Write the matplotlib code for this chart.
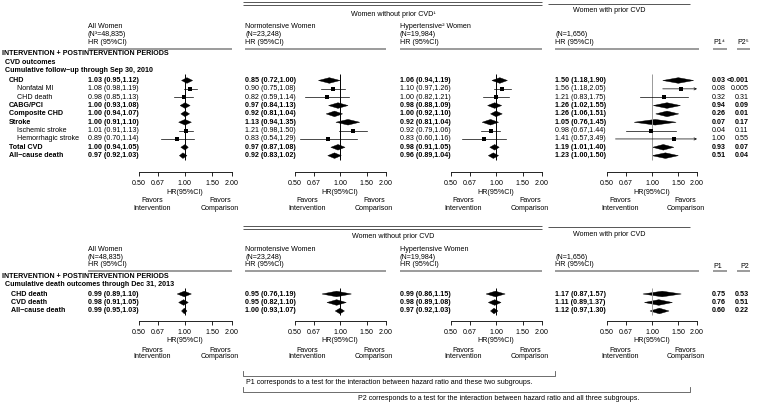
import numpy as np
import matplotlib.pyplot as plt
import matplotlib.transforms as mtransforms
from matplotlib.patches import Polygon
from matplotlib.ticker import NullLocator

plt.rcParams['font.family'] = ['Liberation Sans', 'DejaVu Sans']

# ---------------- data ----------------
groups = ["All Women", "Normotensive Women", "Hypertensive Women", "Women with prior CVD"]
n_labels_top = ["(N\u00b3=48,835)", "(N=23,248)", "(N=19,984)", "(N=1,656)"]
n_labels_bot = ["(N=48,835)", "(N=23,248)", "(N=19,984)", "(N=1,656)"]
col_titles_top = ["All Women", "Normotensive Women", "Hypertensive\u00b2 Women", ""]
col_titles_bot = ["All Women", "Normotensive Women", "Hypertensive Women", ""]

outcomes_top = ["CHD", "Nonfatal MI", "CHD death", "CABG/PCI", "Composite CHD", "Stroke",
                "Ischemic stroke", "Hemorrhagic stroke", "Total CVD", "All\u2212cause death"]
summary_top = [True, False, False, True, True, True, False, False, True, True]

# (HR, lower, upper)
all_top = [(1.03, 0.95, 1.12), (1.08, 0.98, 1.19), (0.98, 0.85, 1.13), (1.00, 0.93, 1.08),
           (1.00, 0.94, 1.07), (1.00, 0.91, 1.10), (1.01, 0.91, 1.13), (0.89, 0.70, 1.14),
           (1.00, 0.94, 1.05), (0.97, 0.92, 1.03)]
normo_top = [(0.85, 0.72, 1.00), (0.90, 0.75, 1.08), (0.82, 0.59, 1.14), (0.97, 0.84, 1.13),
             (0.92, 0.81, 1.04), (1.13, 0.94, 1.35), (1.21, 0.98, 1.50), (0.83, 0.54, 1.29),
             (0.97, 0.87, 1.08), (0.92, 0.83, 1.02)]
hyper_top = [(1.06, 0.94, 1.19), (1.10, 0.97, 1.26), (1.00, 0.82, 1.21), (0.98, 0.88, 1.09),
             (1.00, 0.92, 1.10), (0.92, 0.81, 1.04), (0.92, 0.79, 1.06), (0.83, 0.60, 1.16),
             (0.98, 0.91, 1.05), (0.96, 0.89, 1.04)]
prior_top = [(1.50, 1.18, 1.90), (1.56, 1.18, 2.05), (1.21, 0.83, 1.75), (1.26, 1.02, 1.55),
             (1.26, 1.06, 1.51), (1.05, 0.76, 1.45), (0.98, 0.67, 1.44), (1.41, 0.57, 3.49),
             (1.19, 1.01, 1.40), (1.23, 1.00, 1.50)]
p1_top = ["0.03", "0.08", "0.32", "0.94", "0.26", "0.07", "0.04", "1.00", "0.93", "0.51"]
p2_top = ["<0.001", "0.005", "0.31", "0.09", "0.01", "0.17", "0.11", "0.55", "0.07", "0.04"]

outcomes_bot = ["CHD death", "CVD death", "All\u2212cause death"]
summary_bot = [True, True, True]
all_bot = [(0.99, 0.89, 1.10), (0.98, 0.91, 1.05), (0.99, 0.95, 1.03)]
normo_bot = [(0.95, 0.76, 1.19), (0.95, 0.82, 1.10), (1.00, 0.93, 1.07)]
hyper_bot = [(0.99, 0.86, 1.15), (0.98, 0.89, 1.08), (0.97, 0.92, 1.03)]
prior_bot = [(1.17, 0.87, 1.57), (1.11, 0.89, 1.37), (1.12, 0.97, 1.30)]
p1_bot = ["0.75", "0.76", "0.60"]
p2_bot = ["0.53", "0.51", "0.22"]

ticks = [0.5, 0.67, 1.0, 1.5, 2.0]
tick_labels = ["0.50", "0.67", "1.00", "1.50", "2.00"]

# ---------------- layout (pixels) ----------------
W, H = 757, 405
FS = 5.1
centers = [185, 340, 496, 652]     # x of HR = 1
halfw = [46.5, 45.5, 45.5, 45.0]   # px from HR=1 to HR=2
text_x = [88, 245, 400, 555]
ref_colors = ['black', 'black', 'black', '#9a9a9a']

fig = plt.figure(figsize=(W / 100, H / 100), dpi=100)
bg = fig.add_axes([0, 0, 1, 1])
bg.set_xlim(0, W)
bg.set_ylim(H, 0)
bg.axis('off')


def txt(x, y, s, bold=False, ha='left', **kw):
    bg.text(x, y, s, fontsize=FS, ha=ha, va='center',
            fontweight='bold' if bold else 'normal', **kw)


def hline(x0, x1, y, color='#808080', lw=1.0):
    bg.plot([x0, x1], [y, y], color=color, lw=lw, solid_capstyle='butt')


def forest(i, data, summary, rows_y, top_y, axis_y, ref_top, ref_bot):
    c, k = centers[i], halfw[i]
    x0, x1 = c - k, c + k
    ax = fig.add_axes([x0 / W, 1 - axis_y / H, (x1 - x0) / W, (axis_y - top_y) / H])
    ax.set_xscale('log')
    ax.set_xlim(0.5, 2.0)
    ax.set_ylim(axis_y, top_y)
    ax.patch.set_visible(False)
    for s in ['top', 'left', 'right']:
        ax.spines[s].set_visible(False)
    ax.spines['bottom'].set_linewidth(0.6)
    ax.set_yticks([])
    ax.set_xticks(ticks)
    ax.set_xticklabels(tick_labels)
    ax.xaxis.set_minor_locator(NullLocator())
    ax.tick_params(axis='x', direction='out', length=3, width=0.6, labelsize=FS, pad=3)
    ax.vlines(1.0, ref_top, ref_bot, color=ref_colors[i], lw=0.7)
    for (hr, lo, hi), summ, y in zip(data, summary, rows_y):
        if summ:
            h = 2.8
            ax.add_patch(Polygon([(lo, y), (hr, y - h), (min(hi, 2.0), y), (hr, y + h)],
                                 closed=True, facecolor='black', edgecolor='black', lw=0.3))
        else:
            if hi > 2.0:
                ax.annotate('', xy=(2.0, y), xytext=(lo, y), annotation_clip=False,
                            arrowprops=dict(arrowstyle='->', lw=0.5, color='black',
                                            shrinkA=0, shrinkB=0, mutation_scale=4))
            else:
                ax.plot([lo, hi], [y, y], color='black', lw=0.5)
            ax.plot(hr, y, 's', ms=2.4, color='black', mec='black', mew=0)
    # axis annotations
    tr = mtransforms.blended_transform_factory(ax.transData, bg.transData)
    bg.text(1.0, axis_y + 20, "HR(95%CI)", fontsize=FS, ha='center', va='center', transform=tr)
    bg.text(0.61, axis_y + 32.5, "Favors\nIntervention", fontsize=FS, ha='center', va='center',
            linespacing=1.0, transform=tr)
    bg.text(1.68, axis_y + 32.5, "Favors\nComparison", fontsize=FS, ha='center', va='center',
            linespacing=1.0, transform=tr)
    return ax


def section(y_line, y_title_left, y_title_right, title_left, col_titles, n_labels,
            y_hdr, p_hdr):
    # group spanning lines
    hline(243, 542, y_line - 1.5, color='#555555', lw=0.7)
    hline(243, 542, y_line + 1.5, color='#555555', lw=0.7)
    hline(548, 690, y_line, color='#555555', lw=0.7)
    txt(393, y_title_left, title_left, ha='center')
    txt(609, y_title_right, "Women with prior CVD", ha='center')
    for i in range(4):
        if col_titles[i]:
            txt(text_x[i], y_hdr[0], col_titles[i])
        txt(text_x[i], y_hdr[1], n_labels[i])
        txt(text_x[i], y_hdr[2], "HR (95%CI)")
        hline(text_x[i], centers[i] + halfw[i] + (2 if i == 3 else 0), y_hdr[3], lw=1.1)
    txt(713, y_hdr[2] + 1, p_hdr[0])
    txt(749, y_hdr[2] + 1, p_hdr[1], ha='right')
    hline(713, 727, y_hdr[3], lw=1.1)
    hline(737, 750, y_hdr[3], lw=1.1)


def rows(labels, summary, data_sets, p1, p2, rows_y, indent_main, indent_sub):
    for j, y in enumerate(rows_y):
        txt(indent_main if summary[j] else indent_sub, y, labels[j], bold=summary[j])
        for i, d in enumerate(data_sets):
            hr, lo, hi = d[j]
            txt(text_x[i], y, f"{hr:.2f} ({lo:.2f},{hi:.2f})", bold=summary[j])
        txt(725.5, y, p1[j], bold=summary[j], ha='right')
        txt(748.5, y, p2[j], bold=summary[j], ha='right')


# ---------------- top section ----------------
section(3.5, 15, 10, "Women without prior CVD\u00b9", col_titles_top, n_labels_top,
        (27, 34.5, 42, 48.5), ("P1\u2074", "P2\u2075"))
txt(2, 53.5, "INTERVENTION + POSTINTERVENTION PERIODS", bold=True)
txt(5, 62.5, "CVD outcomes", bold=True)
txt(5, 71, "Cumulative follow\u2212up through Sep 30, 2010", bold=True)
rows_top = [80.5 + 8.35 * j for j in range(len(outcomes_top))]
data_top = [all_top, normo_top, hyper_top, prior_top]
rows(outcomes_top, summary_top, data_top, p1_top, p2_top, rows_top, 9, 17)
for i, d in enumerate(data_top):
    forest(i, d, summary_top, rows_top, 70, 172, 74, 160)

# ---------------- bottom section ----------------
section(227, 236, 234, "Women without prior CVD", col_titles_bot, n_labels_bot,
        (249.5, 257.5, 265, 270.5), ("P1", "P2"))
txt(2, 276.5, "INTERVENTION + POSTINTERVENTION PERIODS", bold=True)
txt(5, 284.5, "Cumulative death outcomes through Dec 31, 2013", bold=True)
rows_bot = [294 + 8.5 * j for j in range(len(outcomes_bot))]
data_bot = [all_bot, normo_bot, hyper_bot, prior_bot]
rows(outcomes_bot, summary_bot, data_bot, p1_bot, p2_bot, rows_bot, 11, 11)
for i, d in enumerate(data_bot):
    forest(i, d, summary_bot, rows_bot, 287, 321, 288, 315)

# ---------------- footnote brackets ----------------
def bracket(x0, x1, y, text, tx):
    bg.plot([x0, x0, x1, x1], [y - 5, y, y, y - 5], color='#555555', lw=0.6)
    txt(tx, y + 7, text)


bracket(243, 555, 376, "P1 corresponds to a test for the interaction between hazard ratio and these two subgroups.", 246)
bracket(243, 690, 392, "P2 corresponds to a test for the interaction between hazard ratio and all three subgroups.", 358)

fig.savefig("out.png", dpi=100)
